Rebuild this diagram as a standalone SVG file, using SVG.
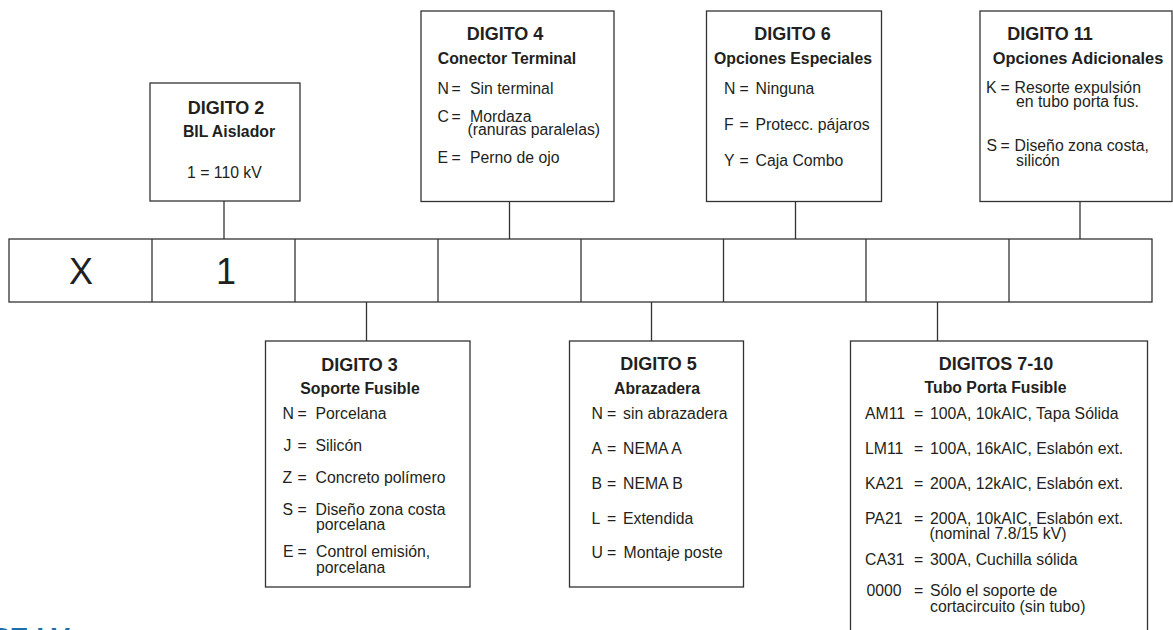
<svg xmlns="http://www.w3.org/2000/svg" width="1173" height="630" viewBox="0 0 1173 630">
<style>
.box{fill:#fff;stroke:#333;stroke-width:1.3}
.ln{fill:none;stroke:#333;stroke-width:1.3}
.t{font-family:"Liberation Sans",Arial,sans-serif;font-weight:bold;font-size:18px;fill:#231f20;text-anchor:middle}
.s{font-family:"Liberation Sans",Arial,sans-serif;font-weight:bold;font-size:15.8px;fill:#231f20;text-anchor:middle}
.b{font-family:"Liberation Sans",Arial,sans-serif;font-size:15.8px;fill:#231f20}
.big{font-family:"Liberation Sans",Arial,sans-serif;font-size:36px;fill:#231f20;text-anchor:middle}
.blue{font-family:"Liberation Sans",Arial,sans-serif;font-weight:bold;font-size:28px;fill:#1f6ea8}
</style>
<rect width="1173" height="630" fill="#fff"/>

<g id="connectors">
<line class="ln" x1="224" y1="201" x2="224" y2="239"/>
<line class="ln" x1="509.5" y1="201.5" x2="509.5" y2="239"/>
<line class="ln" x1="795.5" y1="201.5" x2="795.5" y2="239"/>
<line class="ln" x1="1080" y1="201.5" x2="1080" y2="239"/>
<line class="ln" x1="366.5" y1="302" x2="366.5" y2="341"/>
<line class="ln" x1="651.5" y1="302" x2="651.5" y2="341"/>
<line class="ln" x1="937.5" y1="302" x2="937.5" y2="341"/>
</g>

<g id="code-row">
<rect class="box" x="9" y="239" width="1143" height="63"/>
<line class="ln" x1="152" y1="239" x2="152" y2="302"/>
<line class="ln" x1="295" y1="239" x2="295" y2="302"/>
<line class="ln" x1="438" y1="239" x2="438" y2="302"/>
<line class="ln" x1="581" y1="239" x2="581" y2="302"/>
<line class="ln" x1="723.5" y1="239" x2="723.5" y2="302"/>
<line class="ln" x1="866" y1="239" x2="866" y2="302"/>
<line class="ln" x1="1009" y1="239" x2="1009" y2="302"/>
<text class="big" x="81" y="284">X</text>
<text class="big" x="226" y="284">1</text>
</g>

<g id="digito2">
<rect class="box" x="150" y="83" width="150" height="118"/>
<text class="t" x="226" y="114">DIGITO 2</text>
<text class="s" x="229" y="136.5">BIL Aislador</text>
<text class="b" x="187" y="177.5">1 = 110 kV</text>
</g>

<g id="digito4">
<rect class="box" x="421" y="11" width="193" height="190.5"/>
<text class="t" x="505" y="40">DIGITO 4</text>
<text class="s" x="507" y="63.5">Conector Terminal</text>
<text class="b" y="94"><tspan x="437.5">N</tspan><tspan x="451.5">=</tspan><tspan x="470">Sin terminal</tspan></text>
<text class="b" y="121.5"><tspan x="437.5">C</tspan><tspan x="451.5">=</tspan><tspan x="470">Mordaza</tspan></text>
<text class="b" x="467.5" y="135">(ranuras paralelas)</text>
<text class="b" y="163"><tspan x="437.5">E</tspan><tspan x="451.5">=</tspan><tspan x="470">Perno de ojo</tspan></text>
</g>

<g id="digito6">
<rect class="box" x="706.5" y="11" width="175" height="190.5"/>
<text class="t" x="792.5" y="40">DIGITO 6</text>
<text class="s" x="793" y="63.5">Opciones Especiales</text>
<text class="b" y="94"><tspan x="724">N</tspan><tspan x="739.5">=</tspan><tspan x="755.5">Ninguna</tspan></text>
<text class="b" y="130"><tspan x="724">F</tspan><tspan x="739.5">=</tspan><tspan x="755.5">Protecc. pájaros</tspan></text>
<text class="b" y="165.5"><tspan x="724">Y</tspan><tspan x="739.5">=</tspan><tspan x="755.5">Caja Combo</tspan></text>
</g>

<g id="digito11">
<rect class="box" x="980" y="11" width="192" height="190.5"/>
<text class="t" x="1050" y="40">DIGITO 11</text>
<text class="s" x="1078" y="63.5" style="font-size:16.4px">Opciones Adicionales</text>
<text class="b" y="92.5"><tspan x="986">K</tspan><tspan x="1000.5">=</tspan><tspan x="1014.5">Resorte expulsión</tspan></text>
<text class="b" x="1016" y="107">en tubo porta fus.</text>
<text class="b" y="150.5"><tspan x="986.5">S</tspan><tspan x="1000.5">=</tspan><tspan x="1014.5">Diseño zona costa,</tspan></text>
<text class="b" x="1016" y="165.5">silicón</text>
</g>

<g id="digito3">
<rect class="box" x="265.5" y="341" width="204.5" height="246"/>
<text class="t" x="359.5" y="370.5">DIGITO 3</text>
<text class="s" x="360" y="394">Soporte Fusible</text>
<text class="b" y="419"><tspan x="282.5">N</tspan><tspan x="297.5">=</tspan><tspan x="315.5">Porcelana</tspan></text>
<text class="b" y="451"><tspan x="283.5">J</tspan><tspan x="297.5">=</tspan><tspan x="315.5">Silicón</tspan></text>
<text class="b" y="483"><tspan x="282.5">Z</tspan><tspan x="297.5">=</tspan><tspan x="315.5">Concreto polímero</tspan></text>
<text class="b" y="515"><tspan x="282.5">S</tspan><tspan x="297.5">=</tspan><tspan x="315.5">Diseño zona costa</tspan></text>
<text class="b" x="316" y="530">porcelana</text>
<text class="b" y="557"><tspan x="283">E</tspan><tspan x="297.5">=</tspan><tspan x="316">Control emisión,</tspan></text>
<text class="b" x="316" y="572.5">porcelana</text>
</g>

<g id="digito5">
<rect class="box" x="569.5" y="341" width="174" height="246"/>
<text class="t" x="658.5" y="370">DIGITO 5</text>
<text class="s" x="657" y="394">Abrazadera</text>
<text class="b" y="419"><tspan x="591.5">N</tspan><tspan x="607">=</tspan><tspan x="623">sin abrazadera</tspan></text>
<text class="b" y="454"><tspan x="591.5">A</tspan><tspan x="607">=</tspan><tspan x="623">NEMA A</tspan></text>
<text class="b" y="489"><tspan x="591.5">B</tspan><tspan x="607">=</tspan><tspan x="623">NEMA B</tspan></text>
<text class="b" y="524"><tspan x="591.5">L</tspan><tspan x="607">=</tspan><tspan x="623">Extendida</tspan></text>
<text class="b" y="558"><tspan x="591.5">U</tspan><tspan x="607">=</tspan><tspan x="623.5">Montaje poste</tspan></text>
</g>

<g id="digitos7-10">
<rect class="box" x="850.5" y="341" width="297" height="300"/>
<text class="t" x="996" y="369.5">DIGITOS 7-10</text>
<text class="s" x="995.5" y="392.5">Tubo Porta Fusible</text>
<text class="b" y="419"><tspan x="865">AM11</tspan><tspan x="914">=</tspan><tspan x="930">100A, 10kAIC, Tapa Sólida</tspan></text>
<text class="b" y="454"><tspan x="865">LM11</tspan><tspan x="914">=</tspan><tspan x="930">100A, 16kAIC, Eslabón ext.</tspan></text>
<text class="b" y="489"><tspan x="865">KA21</tspan><tspan x="914">=</tspan><tspan x="930">200A, 12kAIC, Eslabón ext.</tspan></text>
<text class="b" y="524"><tspan x="865">PA21</tspan><tspan x="914">=</tspan><tspan x="930">200A, 10kAIC, Eslabón ext.</tspan></text>
<text class="b" x="929.5" y="538.5">(nominal 7.8/15 kV)</text>
<text class="b" y="565"><tspan x="865">CA31</tspan><tspan x="914">=</tspan><tspan x="930">300A, Cuchilla sólida</tspan></text>
<text class="b" y="596"><tspan x="866.5">0000</tspan><tspan x="914">=</tspan><tspan x="930">Sólo el soporte de</tspan></text>
<text class="b" x="930" y="611.5">cortacircuito (sin tubo)</text>
</g>

<text class="blue" x="-9" y="647">PE LV</text>
</svg>
